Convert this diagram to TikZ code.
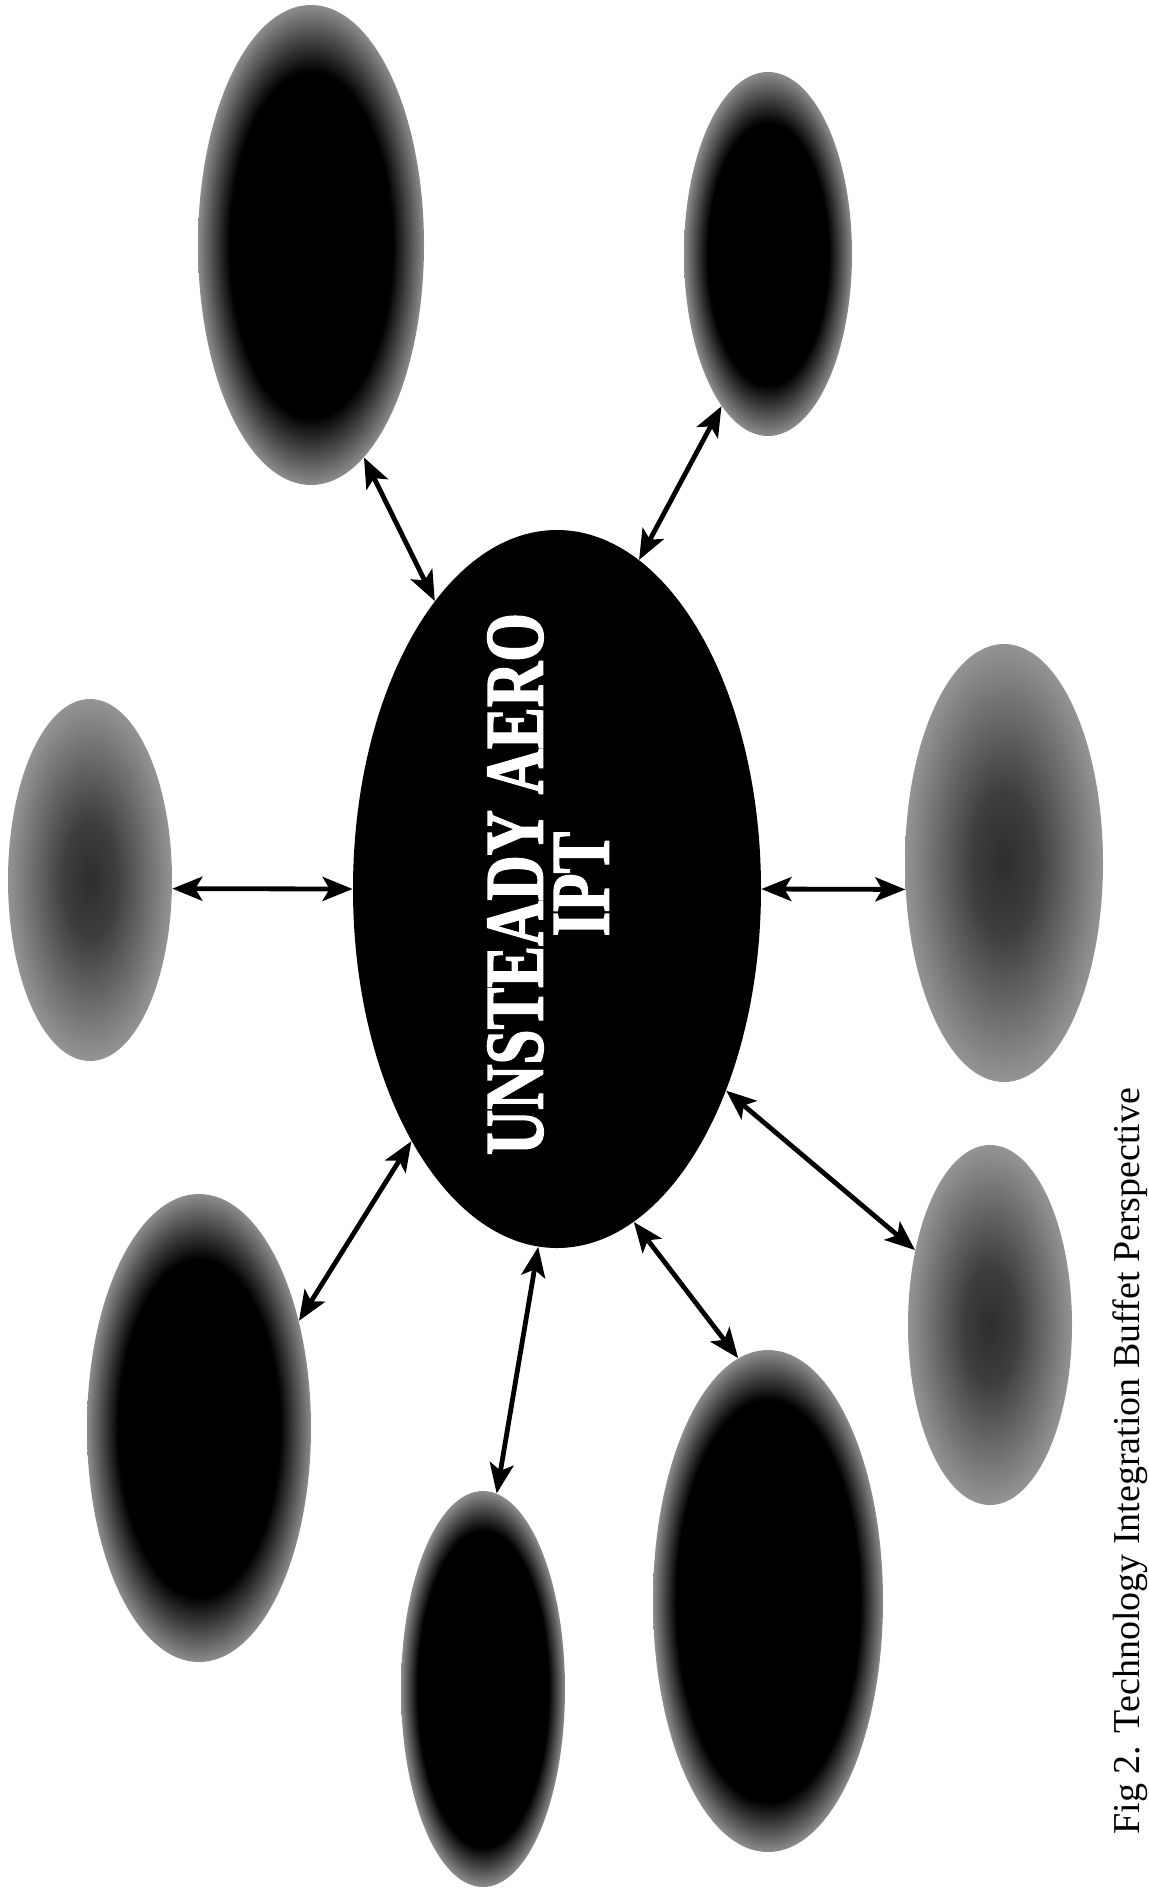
\documentclass[tikz,border=0pt]{standalone}
\usepackage{fontspec}
\setmainfont{Liberation Serif}
\newfontfamily\hubfont{Liberation Serif Bold}[FakeBold=2]
\usetikzlibrary{arrows.meta,shapes.geometric}
\pgfdeclareradialshading{darkblob}{\pgfpointorigin}{color(0bp)=(black); color(18bp)=(black); color(25bp)=(black!45); color(50bp)=(black!45)}
\pgfdeclareradialshading{blackblob}{\pgfpointorigin}{color(0bp)=(black); color(20bp)=(black); color(25bp)=(black!45); color(50bp)=(black!45)}
\pgfdeclareradialshading{grayblob}{\pgfpointorigin}{color(0bp)=(black!82); color(8bp)=(black!76); color(25bp)=(black!42); color(50bp)=(black!42)}
\begin{document}
\begin{tikzpicture}[x=0.5pt,y=-0.5pt,
  blob/.style={ellipse, inner sep=0pt, draw=none},
  darkblob/.style={blob, shade, shading=darkblob},
  blackblob/.style={blob, shade, shading=blackblob},
  greyblob/.style={blob, shade, shading=grayblob},
  hub/.style={blob, fill=black},
  link/.style={{Stealth[length=15pt,width=12pt,inset=3.5pt]}-{Stealth[length=15pt,width=12pt,inset=3.5pt]}, line width=2.4pt}]
\fill[white] (0,0) rectangle (1149,1891);
\useasboundingbox (0,0) rectangle (1149,1891);

\node[darkblob, minimum width=113pt, minimum height=240pt] (n1) at (311,245) {};
\node[darkblob, minimum width=84pt, minimum height=182pt] (n2) at (768,254) {};
\node[greyblob, minimum width=82pt, minimum height=181pt] (n3) at (90,880) {};
\node[greyblob, minimum width=99pt, minimum height=219pt] (n4) at (1004,863) {};
\node[darkblob, minimum width=112pt, minimum height=234pt] (n5) at (199,1428) {};
\node[blackblob, minimum width=82pt, minimum height=198pt] (n6) at (483,1689) {};
\node[blackblob, minimum width=115pt, minimum height=251pt] (n7) at (768,1601) {};
\node[greyblob, minimum width=82pt, minimum height=180pt] (n8) at (990,1325) {};
\node[hub, minimum width=204pt, minimum height=359pt] (c) at (557,889) {};

\node[text=white, font=\hubfont\fontsize{41.5}{33}\selectfont, rotate=90, align=center, inner sep=0pt] (t) at (548,884)
  {\scalebox{0.756}[1]{UNSTEADY AERO}\\\scalebox{0.756}[1]{IPT}};

\draw[link] (n1.-76) -- (c.113);
\draw[link] (n2.253) -- (c.76);
\draw[link] (n3.-6) -- (c.180);
\draw[link] (c.0) -- (n4.195);
\draw[link] (n5.47) -- (c.240);
\draw[link] (n6.86) -- (c.267);
\draw[link] (n7.97) -- (c.283);
\draw[link] (n8.135) -- (c.-50);

\node[rotate=90, anchor=base west, inner sep=0pt, font=\fontsize{19}{22}\selectfont] (cap) at (1139,1835) {Fig 2. Technology Integration Buffet Perspective};
\end{tikzpicture}
\end{document}
